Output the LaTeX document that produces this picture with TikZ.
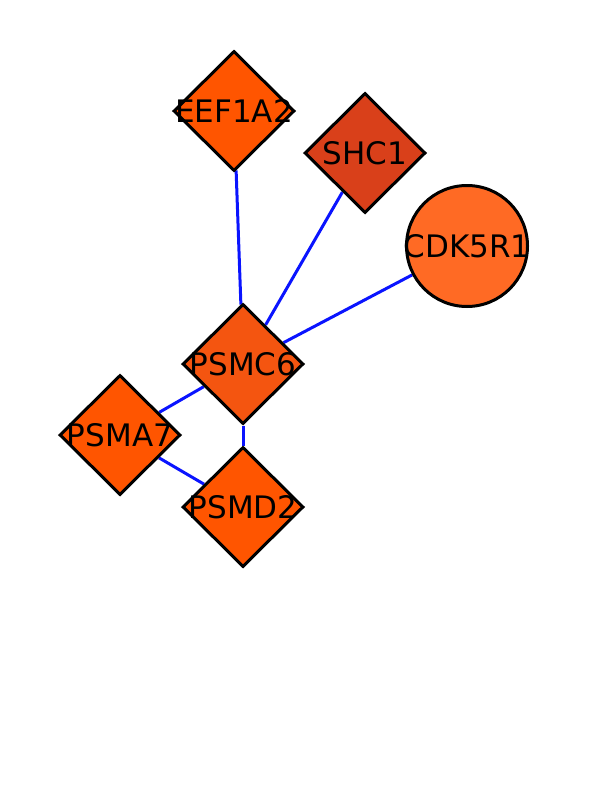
\documentclass[tikz,border=0pt]{standalone}
\usepackage{fontspec}
\setmainfont{DejaVu Sans}
\usetikzlibrary{shapes.geometric, backgrounds}

\definecolor{geneorange}{HTML}{FF5500}
\definecolor{genemid}{HTML}{F45510}
\definecolor{genedark}{HTML}{D9401A}
\definecolor{genelight}{HTML}{FF6A24}
\definecolor{edgeblue}{HTML}{0A14FF}

\begin{document}
\begin{tikzpicture}[
            x=1pt, y=-1pt,
            every node/.style={font=\fontsize{31}{33}\selectfont},
            every label/.style={font=\fontsize{31}{33}\selectfont},
            gene/.style={draw, line width=3pt, diamond, minimum width=121pt, minimum height=120pt,
                                           inner sep=0pt, fill=geneorange},
            hub/.style={draw, line width=3pt, circle, minimum size=121pt, inner sep=0pt, fill=genelight},
            link/.style={draw=edgeblue, line width=3pt}
      ]
      \useasboundingbox (0,0) rectangle (612,792);

      % Upper nodes
      \node[gene, label=center:EEF1A2] (eef) at (234, 111) {};
      \node[gene, fill=genedark, label=center:SHC1] (shc) at (365, 153) {};
      \node[hub, label=center:CDK5R1] (cdk) at (467, 246) {};

      % Proteasome nodes
      \node[gene, fill=genemid, label=center:PSMC6] (psmc) at (243, 364) {};
      \node[gene, label=center:PSMA7] (psma) at (120, 435) {};
      \node[gene, label=center:PSMD2] (psmd) at (243, 507) {};

      \begin{scope}[on background layer]
      \draw[link] (eef) -- (psmc);
      \draw[link] (shc) -- (psmc);
      \draw[link] (cdk) -- (psmc);
      \draw[link] (psmc) -- (psma);
      \draw[link] (psmc) -- (psmd);
      \draw[link] (psma) -- (psmd);
      \end{scope}
\end{tikzpicture}
\end{document}
